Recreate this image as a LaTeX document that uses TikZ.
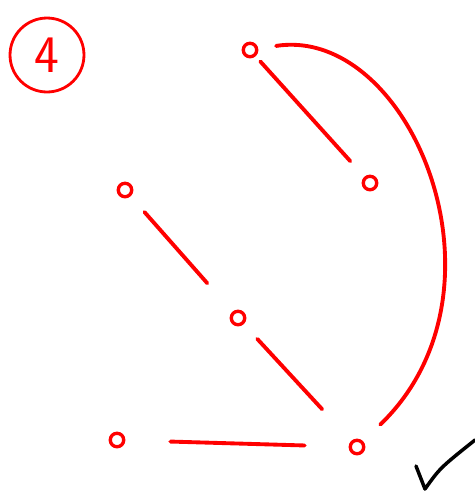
\documentclass[tikz,border=0pt]{standalone}
\usepackage{xcolor}
\usetikzlibrary{arrows.meta,positioning,calc}

\begin{document}
\begin{tikzpicture}[
    x=0.02cm, y=-0.02cm,
    dot/.style={circle, draw=red, line width=1.9pt, minimum size=0.27cm, inner sep=0pt},
    stroke/.style={draw=red, line width=2.2pt, line cap=round, line join=round},
    badge/.style={circle, draw=red, line width=1.6pt, minimum size=1.48cm, inner sep=0pt,
                  text=red, font=\sffamily\fontsize{30}{30}\selectfont},
  ]
  \useasboundingbox (0,0) rectangle (475,491);

  \node[badge] (num) at (47,55) {4};

  \node[dot] (a) at (250,50) {};
  \node[dot] (b) at (370,183) {};
  \node[dot] (c) at (125,190) {};
  \node[dot] (d) at (238,318) {};
  \node[dot] (e) at (117,440) {};
  \node[dot] (f) at (357,447) {};

  \draw[stroke, shorten <=0.14cm, shorten >=0.42cm] (a) -- (b);
  \draw[stroke, shorten <=0.36cm, shorten >=0.48cm] (a) .. controls (410,25) and (520,290) .. (f);
  \draw[stroke, shorten <=0.42cm, shorten >=0.76cm] (c) -- (d);
  \draw[stroke, shorten <=0.40cm, shorten >=0.86cm] (d) -- (f);
  \draw[stroke, shorten <=0.90cm, shorten >=0.88cm] (e) -- (f);

  % check mark
  \draw[line width=2pt, line cap=round, line join=round] (416,466) -- (425,489) .. controls (440,468) .. (475,440);
\end{tikzpicture}
\end{document}
